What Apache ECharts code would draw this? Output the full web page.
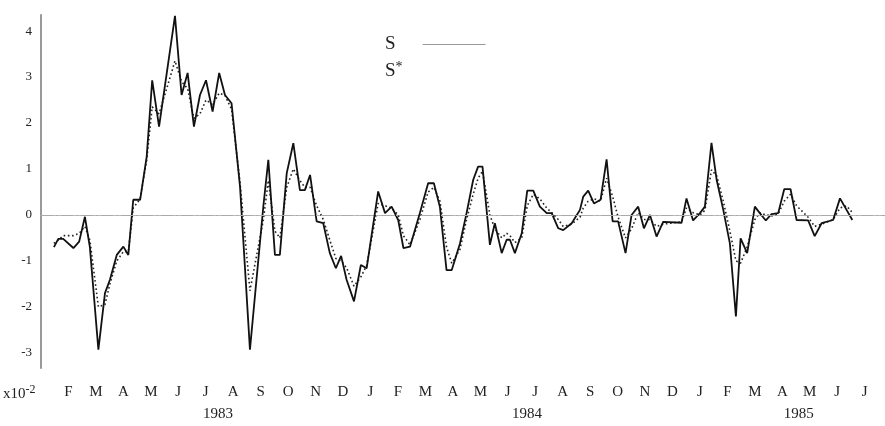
<!DOCTYPE html>
<html>
<head>
<meta charset="utf-8">
<script src="https://cdn.jsdelivr.net/npm/echarts@6/dist/echarts.min.js"></script>
<style>html,body{margin:0;padding:0;background:#fff;}#c{width:885px;height:426px;}</style>
</head>
<body>
<div id="c"></div>
<script>
// x positions in months since 1 Jan 1983
const months = [0.47,0.63,0.81,1.18,1.39,1.60,1.78,2.09,2.33,2.51,2.76,3.00,3.18,3.36,3.61,3.85,4.05,4.30,4.88,5.12,
  5.34,5.57,5.79,6.01,6.25,6.49,6.70,6.94,7.25,7.61,8.10,8.28,8.52,8.70,8.95,9.19,9.43,9.61,9.80,10.04,
  10.28,10.52,10.74,10.93,11.13,11.40,11.65,11.86,12.28,12.53,12.77,13.01,13.20,13.44,13.80,14.10,14.31,14.53,14.77,14.96,
  15.26,15.50,15.74,15.92,16.08,16.35,16.53,16.78,16.96,17.08,17.26,17.51,17.71,17.93,18.17,18.42,18.60,18.84,19.02,19.33,
  19.63,19.75,19.93,20.14,20.38,20.60,20.82,21.02,21.29,21.51,21.75,21.96,22.18,22.42,22.66,23.33,23.51,23.75,24.00,24.18,
  24.42,24.61,24.85,25.09,25.31,25.48,25.72,26.00,26.18,26.40,26.61,26.85,27.07,27.30,27.52,27.94,28.18,28.43,28.85,29.10,
  29.34,29.55];
const sValues = [-0.70,-0.52,-0.52,-0.72,-0.58,-0.04,-0.70,-2.93,-1.70,-1.41,-0.87,-0.69,-0.87,0.33,0.33,1.27,2.93,1.92,4.33,2.61,
  3.09,1.92,2.61,2.93,2.25,3.09,2.61,2.43,0.61,-2.93,0.20,1.20,-0.87,-0.87,0.91,1.56,0.54,0.54,0.87,-0.14,
  -0.18,-0.83,-1.16,-0.89,-1.41,-1.88,-1.09,-1.16,0.51,0.04,0.18,-0.11,-0.72,-0.69,0.04,0.69,0.69,0.17,-1.20,-1.20,
  -0.62,0.04,0.76,1.05,1.05,-0.65,-0.18,-0.83,-0.54,-0.54,-0.83,-0.40,0.53,0.53,0.18,0.04,0.04,-0.29,-0.33,-0.18,
  0.11,0.40,0.53,0.25,0.33,1.21,-0.14,-0.14,-0.83,0.00,0.18,-0.29,0.00,-0.47,-0.15,-0.17,0.36,-0.12,0.04,0.18,
  1.57,0.76,0.11,-0.62,-2.21,-0.51,-0.83,0.18,0.04,-0.12,0.02,0.04,0.56,0.56,-0.11,-0.12,-0.46,-0.18,-0.11,0.36,
  0.11,-0.11];
const sStarValues = [-0.62,-0.55,-0.45,-0.45,-0.40,-0.25,-0.55,-2.00,-1.95,-1.50,-1.00,-0.80,-0.80,0.15,0.35,1.20,2.35,2.20,3.35,2.90,
  2.75,2.10,2.20,2.50,2.40,2.65,2.60,2.30,0.70,-1.65,-0.10,0.75,-0.35,-0.50,0.60,1.00,0.75,0.60,0.60,0.20,
  -0.10,-0.55,-0.95,-1.00,-1.15,-1.55,-1.35,-1.10,0.25,0.20,0.15,0.00,-0.45,-0.65,-0.10,0.50,0.60,0.30,-0.70,-1.05,
  -0.75,-0.10,0.45,0.80,0.95,0.00,-0.30,-0.50,-0.40,-0.45,-0.60,-0.50,0.20,0.45,0.35,0.15,0.05,-0.10,-0.25,-0.20,
  -0.05,0.15,0.30,0.35,0.30,0.80,0.40,-0.05,-0.50,-0.30,0.05,-0.10,-0.10,-0.25,-0.20,-0.15,0.15,0.05,0.00,0.10,
  0.98,0.85,0.30,-0.35,-1.00,-1.05,-0.70,-0.10,0.05,0.00,-0.02,0.02,0.30,0.45,0.20,-0.05,-0.25,-0.20,-0.10,0.15,
  0.20,0.05];
const monthTicks = [1,2,3,4,5,6,7,8,9,10,11,12,13,14,15,16,17,18,19,20,21,22,23,24,25,26,27,28,29,30];
const monthLabels = ['F','M','A','M','J','J','A','S','O','N','D','J','F','M','A','M','J','J','A','S','O','N','D','J','F','M','A','M','J','J'];
const yearTicks = [6.45, 17.7, 27.6];
const yearLabels = ['1983','1984','1985'];
const yTicks = [-3,-2,-1,0,1,2,3,4];

const FONT = "'Liberation Serif','Times New Roman',serif";
const chart = echarts.init(document.getElementById('c'), null, {renderer:'canvas'});
const sData = months.map((m,i)=>[m, sValues[i]]);
const sStarData = months.map((m,i)=>[m, sStarValues[i]]);

chart.setOption({
  animation: false,
  backgroundColor: '#fff',
  grid: {left: 41, right: 0, top: 15, bottom: 58, containLabel: false},
  legend: {
    orient: 'vertical', left: 380, top: 30, itemGap: 6, align: 'right',
    itemWidth: 63, itemHeight: 14,
    textStyle: {fontFamily: FONT, fontSize: 19, color: '#222', padding: [0, 15, 0, 0],
      rich: {a: {fontFamily: FONT, fontSize: 19, color: '#222'},
             b: {fontFamily: FONT, fontSize: 14, color: '#222', padding: [0,0,8,0]},
             w: {fontFamily: FONT, fontSize: 14, color: '#222', width: 7}}},
    formatter: function(n){ return n === 'S*' ? '{a|S}{b|*}' : '{a|S}{w| }'; },
    data: [
      {name: 'S', itemStyle: {opacity: 0}, lineStyle: {color: '#999', width: 1, type: 'solid'}},
      {name: 'S*', itemStyle: {opacity: 0}, lineStyle: {opacity: 0}}
    ]
  },
  xAxis: [{
    type: 'value', min: 0, max: 30.74,
    axisLine: {show: true, lineStyle: {color: '#bbb', width: 1}},
    axisTick: {show: false},
    splitLine: {show: false},
    axisLabel: {customValues: monthTicks, margin: 17, fontFamily: FONT, fontSize: 15, color: '#222',
      formatter: function(v){ const i = monthTicks.indexOf(Math.round(v)); return i >= 0 ? monthLabels[i] : ''; }}
  },{
    type: 'value', min: 0, max: 30.74, position: 'bottom',
    axisLine: {show: false}, axisTick: {show: false}, splitLine: {show: false},
    axisLabel: {customValues: yearTicks, margin: 39, fontFamily: FONT, fontSize: 15, color: '#222',
      formatter: function(v){ let best = 0; yearTicks.forEach((t,i)=>{ if (Math.abs(t-v) < Math.abs(yearTicks[best]-v)) best = i; }); return yearLabels[best]; }}
  }],
  yAxis: {
    type: 'value', min: -3.33, max: 4.35,
    axisLine: {show: true, lineStyle: {color: '#999', width: 2}},
    axisTick: {show: false},
    splitLine: {show: false},
    axisLabel: {customValues: yTicks, margin: 9, fontFamily: FONT, fontSize: 13, color: '#222',
      formatter: function(v){ return String(Math.round(v)); }}
  },
  graphic: [{
    type: 'text', left: 3, top: 384,
    style: {text: '{a|x10}{b|-2}', fontFamily: FONT,
      rich: {a: {fontFamily: FONT, fontSize: 15, fill: '#222'}, b: {fontFamily: FONT, fontSize: 12, fill: '#222', padding: [0,0,9,0]}}}
  }],
  series: [{
    name: 'S*', type: 'line', data: sStarData, symbol: 'none', xAxisIndex: 0,
    itemStyle: {color: '#222'},
    lineStyle: {color: '#222', width: 1.6, type: [1.6, 2.6]},
    markLine: {silent: true, symbol: 'none', label: {show: false},
      lineStyle: {color: '#aaa', width: 1, type: [12, 3, 2, 3]}, data: [{yAxis: 0}]}
  },{
    name: 'S', type: 'line', data: sData, symbol: 'none', xAxisIndex: 0,
    itemStyle: {color: '#111'},
    lineStyle: {color: '#111', width: 1.8}
  }]
});
</script>
</body>
</html>
